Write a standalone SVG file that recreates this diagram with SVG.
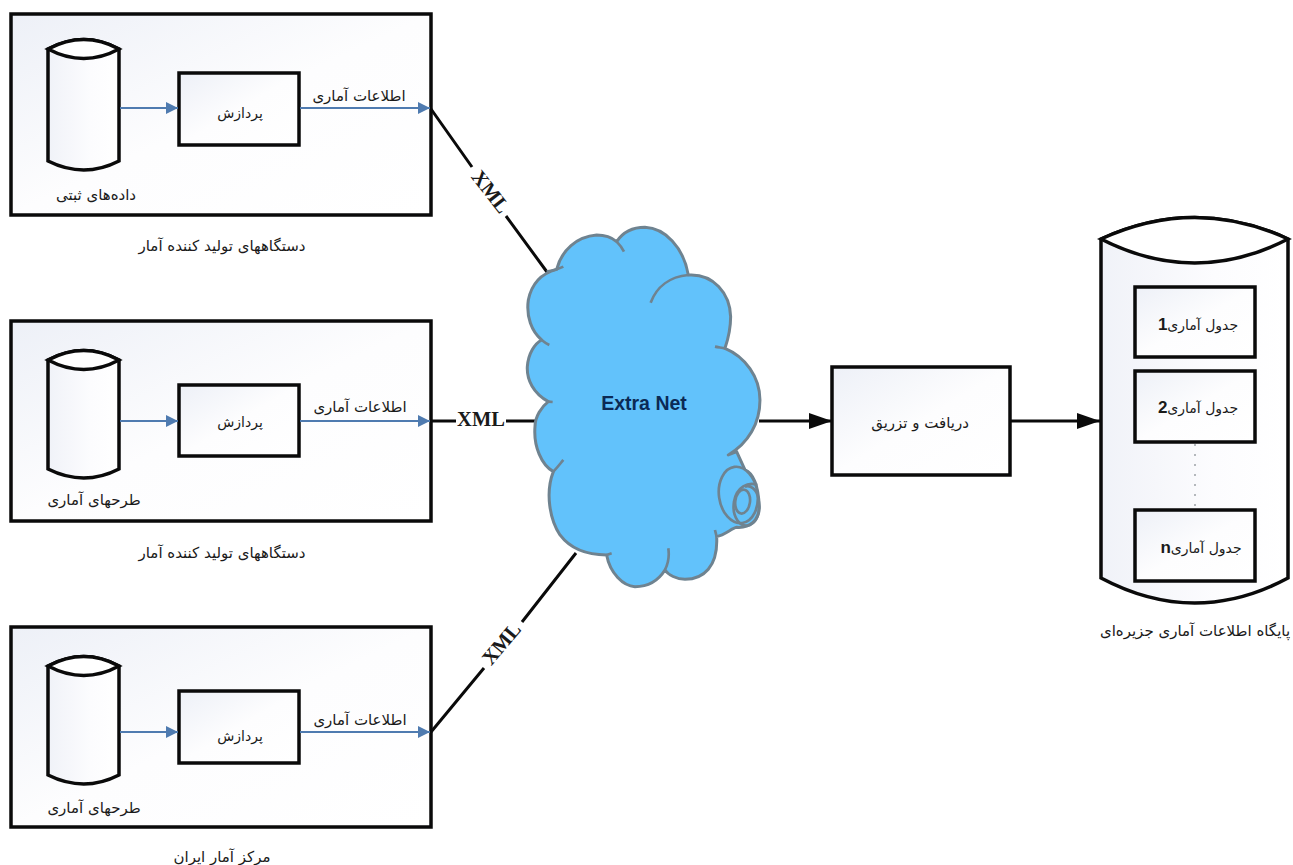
<svg xmlns="http://www.w3.org/2000/svg" width="1293" height="865" viewBox="0 0 1293 865">
<style>
.box{fill:url(#g);stroke:#0a0a0a;stroke-width:3.5}
.t{font-family:"DejaVu Sans","Noto Sans",sans-serif;font-size:15px;fill:#1a1a1a;text-anchor:middle;direction:rtl;dominant-baseline:middle}
.s{font-size:14px}
.b{font-family:"Liberation Sans",sans-serif;font-weight:bold;font-size:17px}
.x{font-family:"Liberation Serif",serif;font-weight:bold;font-size:20.5px;fill:#1a1a1a;text-anchor:middle;dominant-baseline:middle}
.blue{stroke:#4f7bb0;stroke-width:1.8;fill:none;marker-end:url(#ab)}
.blk{stroke:#0a0a0a;stroke-width:3;fill:none}
.arr{marker-end:url(#ak)}
.cl{fill:#62c2fb;stroke:#6f8390;stroke-width:9;stroke-linejoin:round}
.cn{fill:none;stroke:#6f8390;stroke-width:8}
</style>
<defs>
<linearGradient id="g" x1="0" y1="0" x2="1" y2="1"><stop offset="0" stop-color="#edf0f7"/><stop offset=".5" stop-color="#fdfdfe"/><stop offset="1" stop-color="#fff"/></linearGradient>
<linearGradient id="c" x1="0" y1="0" x2="1" y2="0"><stop offset="0" stop-color="#f0f2f8"/><stop offset=".6" stop-color="#fcfcfe"/><stop offset="1" stop-color="#fff"/></linearGradient>
<marker id="ab" markerUnits="userSpaceOnUse" markerWidth="12" markerHeight="12" refX="12" refY="6" orient="auto"><path d="M0 0L12 6L0 12z" fill="#4f7bb0"/></marker>
<marker id="ak" markerUnits="userSpaceOnUse" markerWidth="23" markerHeight="16" refX="23" refY="8" orient="auto"><path d="M0 0L23 8L0 16z" fill="#0a0a0a"/></marker>
</defs>
<rect width="1293" height="865" fill="#fff"/>

<g id="source-1">
<rect class="box" x="11" y="14" width="420" height="201"/>
<path d="M48 49Q84 30 119 49V161Q84 179 48 161z" fill="url(#c)" stroke="#0a0a0a" stroke-width="3.5"/>
<path d="M48 49Q84 68 119 49Q84 30 48 49z" fill="#fff" stroke="#0a0a0a" stroke-width="3.5"/>
<rect class="box" x="179" y="73" width="120" height="72"/>
<text class="t s" x="240" y="114">پردازش</text>
<text class="t" x="359" y="96">اطلاعات آماری</text>
<text class="t" x="96" y="195">داده‌های ثبتی</text>
</g>
<text id="caption-1" class="t" x="222" y="246">دستگاههای تولید کننده آمار</text>

<g id="source-2">
<rect class="box" x="11" y="321" width="420" height="200"/>
<path d="M48 360Q84 341 119 360V469Q84 487 48 469z" fill="url(#c)" stroke="#0a0a0a" stroke-width="3.5"/>
<path d="M48 360Q84 379 119 360Q84 341 48 360z" fill="#fff" stroke="#0a0a0a" stroke-width="3.5"/>
<rect class="box" x="179" y="385" width="120" height="71"/>
<text class="t s" x="240" y="423">پردازش</text>
<text class="t" x="360" y="407">اطلاعات آماری</text>
<text class="t" x="94" y="500">طرحهای آماری</text>
</g>
<text id="caption-2" class="t" x="222" y="553">دستگاههای تولید کننده آمار</text>

<g id="source-3">
<rect class="box" x="11" y="627" width="420" height="200"/>
<path d="M48 666Q84 647 119 666V775Q84 793 48 775z" fill="url(#c)" stroke="#0a0a0a" stroke-width="3.5"/>
<path d="M48 666Q84 685 119 666Q84 647 48 666z" fill="#fff" stroke="#0a0a0a" stroke-width="3.5"/>
<rect class="box" x="179" y="691" width="120" height="72"/>
<text class="t s" x="240" y="737">پردازش</text>
<text class="t" x="360" y="720">اطلاعات آماری</text>
<text class="t" x="94" y="808">طرحهای آماری</text>
</g>
<text id="caption-3" class="t" x="222" y="857">مرکز آمار ایران</text>

<g id="connectors">
<path class="blue" d="M120 108H178"/><path class="blue" d="M300 108H430"/>
<path class="blue" d="M120 421H178"/><path class="blue" d="M300 421H430"/>
<path class="blue" d="M120 732H178"/><path class="blue" d="M300 732H430"/>
<path class="blk" d="M431 109L472 167M506 216L547 272"/>
<path class="blk" d="M431 421H456M506 421H536"/>
<path class="blk" d="M431 732L484 668M522 622L576 553"/>
<path class="blk arr" d="M759 421H832"/>
<path class="blk arr" d="M1010 421H1100"/>
</g>
<text class="x" transform="translate(489 193) rotate(52)">XML</text>
<text class="x" x="481" y="421">XML</text>
<text class="x" transform="translate(503 645) rotate(-50)">XML</text>

<g id="cloud">
<g transform="translate(420 220) scale(.3333)">
<path class="cl" d="M950 695L975 750C1000 760 1015 800 1018 860C1018 900 990 925 950 922C935 925 915 945 890 950C895 1040 850 1078 795 1078C770 1078 745 1065 735 1050C710 1090 675 1100 645 1100C610 1098 570 1060 560 1005C500 1005 450 985 420 945C390 900 375 820 400 755C365 735 340 680 345 620C345 590 365 560 385 545C340 520 320 480 322 440C325 400 345 370 365 360C335 335 318 290 325 240C335 190 365 160 410 148C425 90 470 50 530 45C555 45 575 52 590 65C610 35 640 22 675 22C735 25 790 80 805 165C880 160 930 220 932 290C932 325 925 355 915 385C975 410 1020 470 1020 540C1020 610 985 670 925 705z"/>
<path class="cn" d="M380 155C395 152 415 148 430 140M590 65C600 75 607 85 612 95M805 165C750 170 710 200 692 248M915 385C905 383 895 382 885 380M365 360C372 366 380 371 388 375M385 545L398 546M400 755C410 745 420 732 430 720M560 1005L575 1000M735 1050C745 1030 748 1005 745 985M890 950L885 930"/>
<ellipse class="cn" cx="955" cy="825" rx="58" ry="85" transform="rotate(-8 955 825)" style="fill:#62c2fb"/>
<path class="cn" d="M1012 795C985 785 950 800 942 845C935 890 960 925 990 915C1015 905 1022 870 1015 835C1010 805 990 795 975 800"/>
<ellipse class="cn" cx="968" cy="845" rx="22" ry="36" transform="rotate(8 968 845)"/>
</g>
<text class="b" x="644" y="405" text-anchor="middle" fill="#0b2a55" dominant-baseline="middle" style="font-size:19.5px">Extra Net</text>
</g>

<g id="receive">
<rect class="box" x="832" y="367" width="178" height="108"/>
<text class="t" x="920" y="423">دریافت و تزریق</text>
</g>

<g id="database">
<path d="M1101 239Q1195 196 1288 239V578Q1195 628 1101 578z" fill="url(#c)" stroke="#0a0a0a" stroke-width="3.5"/>
<path d="M1101 239Q1195 287 1288 239Q1195 196 1101 239z" fill="#fff" stroke="#0a0a0a" stroke-width="3.5"/>
<rect class="box" x="1135" y="287" width="120" height="70"/>
<text class="t s" x="1198" y="326">جدول آماری<tspan class="b">1</tspan></text>
<rect class="box" x="1135" y="371" width="120" height="71"/>
<text class="t s" x="1198" y="409">جدول آماری<tspan class="b">2</tspan></text>
<path d="M1195 444V506" stroke="#b4b8bc" stroke-width="2" stroke-dasharray="2 8" fill="none"/>
<rect class="box" x="1135" y="510" width="120" height="71"/>
<text class="t s" x="1201" y="549">جدول آماری<tspan class="b">n</tspan></text>
</g>
<text id="caption-db" class="t" x="1195" y="631">پایگاه اطلاعات آماری جزیره‌ای</text>
</svg>
